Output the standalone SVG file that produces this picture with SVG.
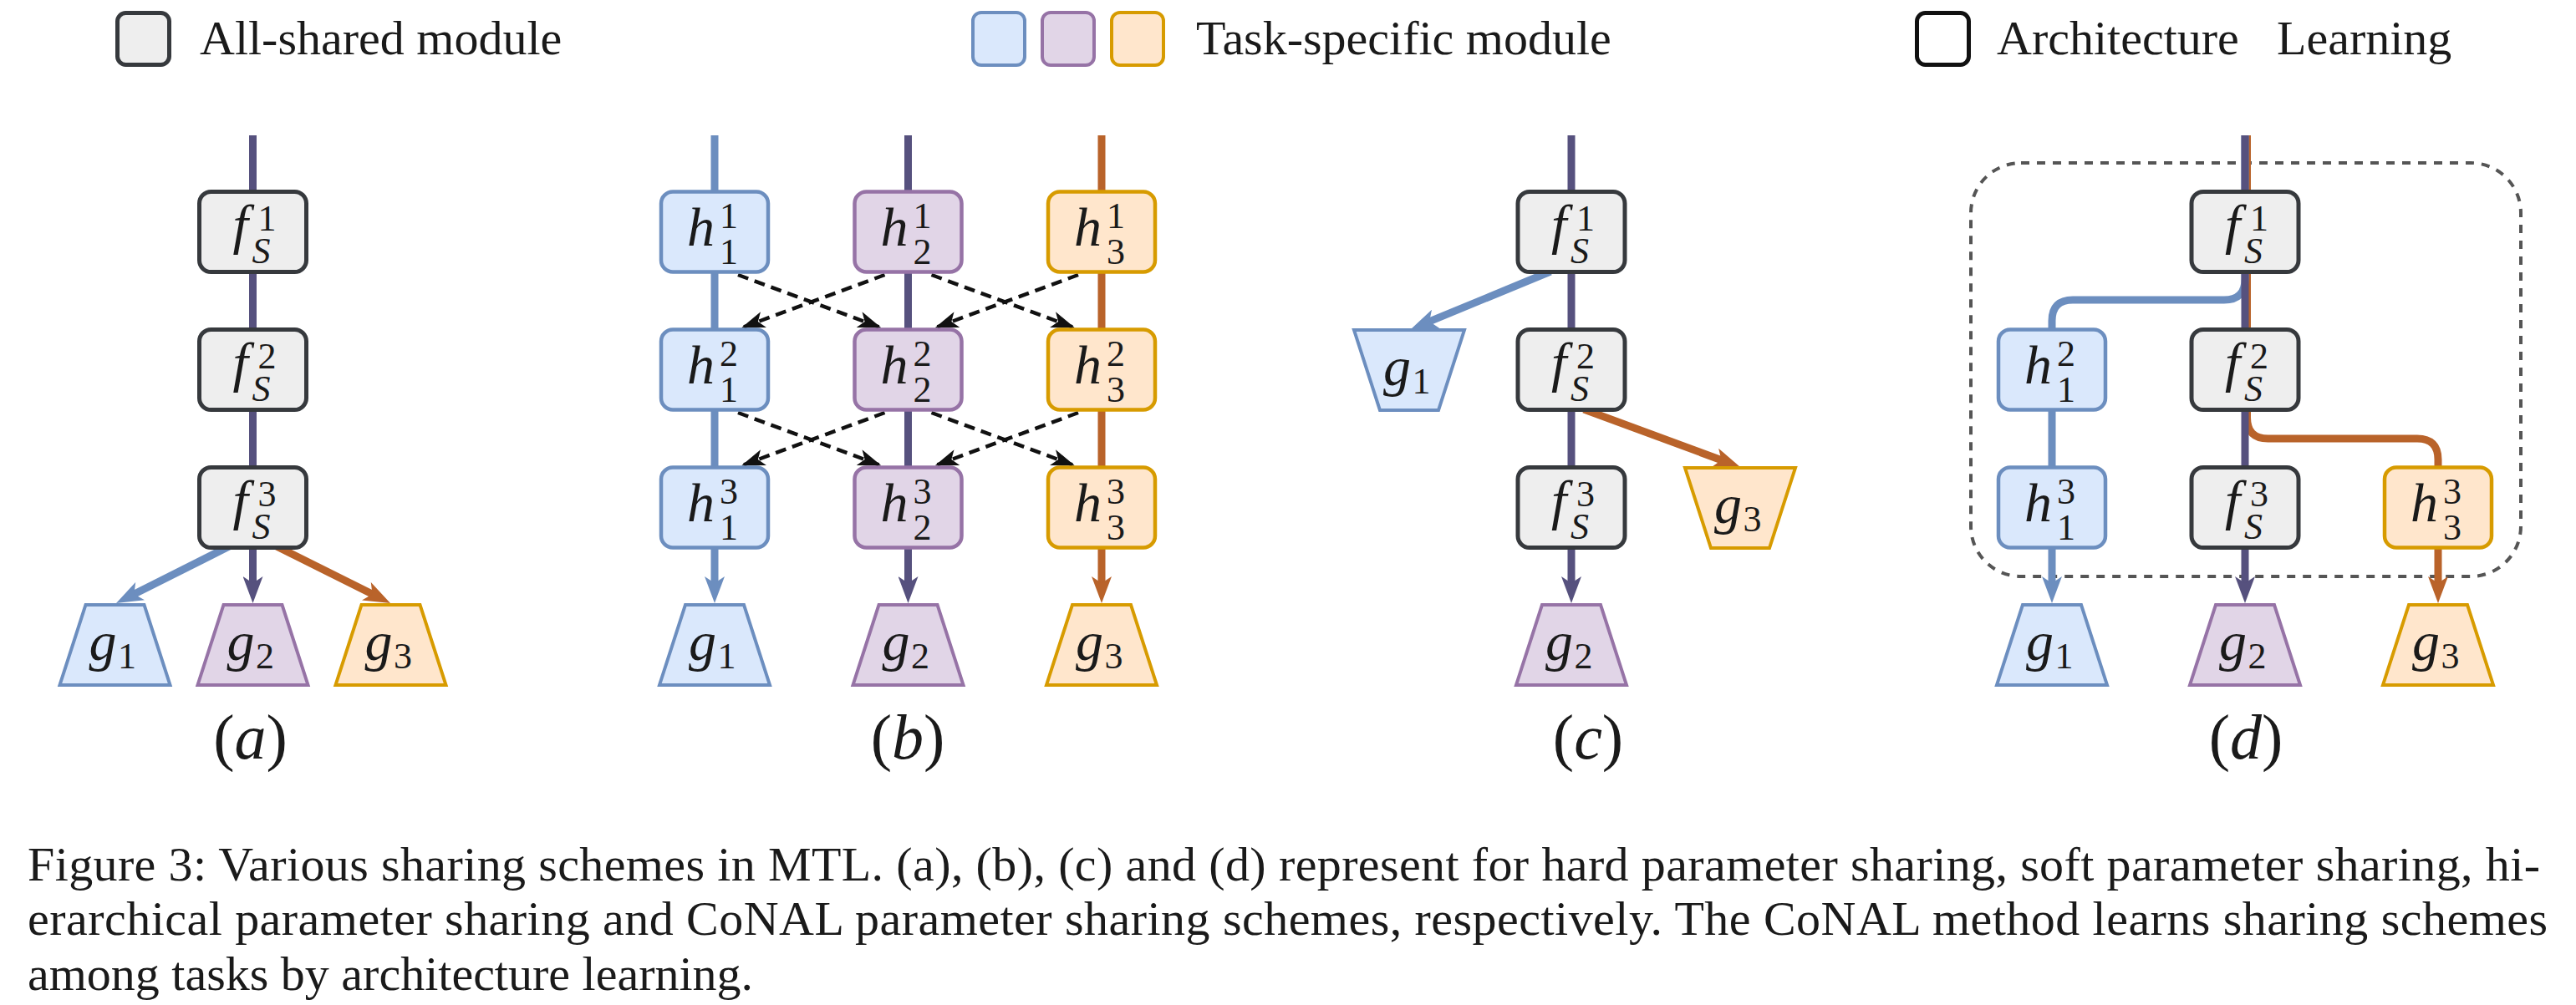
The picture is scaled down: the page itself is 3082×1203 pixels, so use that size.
<svg xmlns="http://www.w3.org/2000/svg" width="3082" height="1203" viewBox="0 0 3082 1203">
<style>
.gray{fill:#eeeeee;stroke:#36393d;stroke-width:5}
.blu{fill:#dae8fc;stroke:#6c8ebf;stroke-width:4.5}
.pur{fill:#e1d5e7;stroke:#9673a6;stroke-width:4.5}
.org{fill:#ffe6cc;stroke:#d79b00;stroke-width:4.5}
.tb{fill:#dae8fc;stroke:#6c8ebf;stroke-width:4}
.tp{fill:#e1d5e7;stroke:#9673a6;stroke-width:4}
.to{fill:#ffe6cc;stroke:#d79b00;stroke-width:4}
.arch{fill:#ffffff;stroke:#111111;stroke-width:5}
.t{font-family:"Liberation Serif","Times New Roman",serif;fill:#1a1a1a}
.leg{font-size:58px}
.cap{font-size:58px}
.mi{font-style:italic;font-size:66px}
.sm{font-style:normal;font-size:44px}
.smi{font-style:italic;font-size:44px}
.lbl{font-size:76px}
.ln{fill:none;stroke-width:9}
.lb{stroke:#6c8ebf}
.lp{stroke:#56517e}
.lo{stroke:#b9632a}
.dash{fill:none;stroke:#111111;stroke-width:4.5;stroke-dasharray:13 8}
.frame{fill:none;stroke:#555555;stroke-width:4;stroke-dasharray:10 9}
</style>
<defs>
<marker id="ab" markerUnits="userSpaceOnUse" viewBox="0 0 32 24" markerWidth="32" markerHeight="24" refX="16" refY="12" orient="auto"><path d="M0,0 L32,12 L0,24 L8,12 Z" fill="#6c8ebf"/></marker>
<marker id="ap" markerUnits="userSpaceOnUse" viewBox="0 0 32 24" markerWidth="32" markerHeight="24" refX="16" refY="12" orient="auto"><path d="M0,0 L32,12 L0,24 L8,12 Z" fill="#56517e"/></marker>
<marker id="ao" markerUnits="userSpaceOnUse" viewBox="0 0 32 24" markerWidth="32" markerHeight="24" refX="16" refY="12" orient="auto"><path d="M0,0 L32,12 L0,24 L8,12 Z" fill="#b9632a"/></marker>
<marker id="ak" markerUnits="userSpaceOnUse" viewBox="0 0 28 20" markerWidth="28" markerHeight="20" refX="25" refY="10" orient="auto"><path d="M0,0 L28,10 L0,20 L7,10 Z" fill="#111111"/></marker>
</defs>
<rect width="3082" height="1203" fill="#ffffff"/>

<g id="legend">
<g id="legend-shared"><rect x="140.5" y="15.5" width="62" height="62" rx="10" class="gray"/><text class="t leg" x="239" y="65">All-shared module</text></g>
<g id="legend-task"><rect x="1164" y="15" width="62" height="63" rx="10" class="tb"/><rect x="1247" y="15" width="62" height="63" rx="10" class="tp"/><rect x="1330" y="15" width="62" height="63" rx="10" class="to"/><text class="t leg" x="1431" y="65">Task-specific module</text></g>
<g id="legend-arch"><rect x="2293.5" y="15.5" width="62" height="62" rx="10" class="arch"/><text class="t leg" x="2389" y="65">Architecture <tspan x="2724">Learning</tspan></text></g>
</g>

<g id="frame-d"><rect x="2358" y="195" width="658" height="495" rx="60" class="frame"/></g>

<g id="connectors">
<path class="ln lp" d="M302.5,162 V706" marker-end="url(#ap)"/>
<path class="ln lb" d="M282,650 L153.3,714.8" marker-end="url(#ab)"/>
<path class="ln lo" d="M323,650 L452.7,714.8" marker-end="url(#ao)"/>
<path class="ln lb" d="M855,162 V706" marker-end="url(#ab)"/>
<path class="ln lp" d="M1086.5,162 V706" marker-end="url(#ap)"/>
<path class="ln lo" d="M1318,162 V706" marker-end="url(#ao)"/>
<path class="dash" d="M883,329 L1051.5,391.3" marker-end="url(#ak)"/>
<path class="dash" d="M1058.5,329 L890,391.3" marker-end="url(#ak)"/>
<path class="dash" d="M1114.5,329 L1283,391.3" marker-end="url(#ak)"/>
<path class="dash" d="M1290,329 L1121.5,391.3" marker-end="url(#ak)"/>
<path class="dash" d="M883,494 L1051.5,556.3" marker-end="url(#ak)"/>
<path class="dash" d="M1058.5,494 L890,556.3" marker-end="url(#ak)"/>
<path class="dash" d="M1114.5,494 L1283,556.3" marker-end="url(#ak)"/>
<path class="dash" d="M1290,494 L1121.5,556.3" marker-end="url(#ak)"/>
<path class="ln lp" d="M1880,162 V706" marker-end="url(#ap)"/>
<path class="ln lb" d="M1855,325 L1702.8,387.9" marker-end="url(#ab)"/>
<path class="ln lo" d="M1895,490 L2067,553.5" marker-end="url(#ao)"/>
<path class="ln lo" d="M2688.5,162 V500 Q2688.5,525 2713.5,525 H2892 Q2917,525 2917,550 V706" marker-end="url(#ao)"/>
<path class="ln lb" d="M2686,162 V334 Q2686,359 2661,359 H2480 Q2455,359 2455,384 V706" marker-end="url(#ab)"/>
<path class="ln lp" d="M2686,162 V706" marker-end="url(#ap)"/>
</g>

<g id="a-f1"><rect x="238.5" y="229.5" width="128" height="96" rx="14" class="gray"/><text class="t" x="278.5" y="290.5"><tspan class="mi">f</tspan><tspan class="sm" x="308.5" y="275.5">1</tspan><tspan class="smi" x="301.5" y="314.5">S</tspan></text></g>
<g id="a-f2"><rect x="238.5" y="394.5" width="128" height="96" rx="14" class="gray"/><text class="t" x="278.5" y="455.5"><tspan class="mi">f</tspan><tspan class="sm" x="308.5" y="440.5">2</tspan><tspan class="smi" x="301.5" y="479.5">S</tspan></text></g>
<g id="a-f3"><rect x="238.5" y="559.5" width="128" height="96" rx="14" class="gray"/><text class="t" x="278.5" y="620.5"><tspan class="mi">f</tspan><tspan class="sm" x="308.5" y="605.5">3</tspan><tspan class="smi" x="301.5" y="644.5">S</tspan></text></g>
<g id="a-g1"><polygon points="102.5,724 172.5,724 203.5,820 71.5,820" class="tb"/><text class="t" x="106.5" y="790"><tspan class="mi">g</tspan><tspan class="sm" x="141" y="800">1</tspan></text></g>
<g id="a-g2"><polygon points="267.5,724 337.5,724 368.5,820 236.5,820" class="tp"/><text class="t" x="271.5" y="790"><tspan class="mi">g</tspan><tspan class="sm" x="306" y="800">2</tspan></text></g>
<g id="a-g3"><polygon points="432.5,724 502.5,724 533.5,820 401.5,820" class="to"/><text class="t" x="436.5" y="790"><tspan class="mi">g</tspan><tspan class="sm" x="471" y="800">3</tspan></text></g>
<text id="label-a" class="t lbl" x="299.5" y="908" text-anchor="middle">(<tspan font-style="italic">a</tspan>)</text>

<g id="b-h11"><rect x="791" y="229.5" width="128" height="96" rx="14" class="blu"/><text class="t" x="822" y="294"><tspan class="mi">h</tspan><tspan class="sm" x="861" y="272.5">1</tspan><tspan class="sm" x="861" y="315.5">1</tspan></text></g>
<g id="b-h12"><rect x="791" y="394.5" width="128" height="96" rx="14" class="blu"/><text class="t" x="822" y="459"><tspan class="mi">h</tspan><tspan class="sm" x="861" y="437.5">2</tspan><tspan class="sm" x="861" y="480.5">1</tspan></text></g>
<g id="b-h13"><rect x="791" y="559.5" width="128" height="96" rx="14" class="blu"/><text class="t" x="822" y="624"><tspan class="mi">h</tspan><tspan class="sm" x="861" y="602.5">3</tspan><tspan class="sm" x="861" y="645.5">1</tspan></text></g>
<g id="b-h21"><rect x="1022.5" y="229.5" width="128" height="96" rx="14" class="pur"/><text class="t" x="1053.5" y="294"><tspan class="mi">h</tspan><tspan class="sm" x="1092.5" y="272.5">1</tspan><tspan class="sm" x="1092.5" y="315.5">2</tspan></text></g>
<g id="b-h22"><rect x="1022.5" y="394.5" width="128" height="96" rx="14" class="pur"/><text class="t" x="1053.5" y="459"><tspan class="mi">h</tspan><tspan class="sm" x="1092.5" y="437.5">2</tspan><tspan class="sm" x="1092.5" y="480.5">2</tspan></text></g>
<g id="b-h23"><rect x="1022.5" y="559.5" width="128" height="96" rx="14" class="pur"/><text class="t" x="1053.5" y="624"><tspan class="mi">h</tspan><tspan class="sm" x="1092.5" y="602.5">3</tspan><tspan class="sm" x="1092.5" y="645.5">2</tspan></text></g>
<g id="b-h31"><rect x="1254" y="229.5" width="128" height="96" rx="14" class="org"/><text class="t" x="1285" y="294"><tspan class="mi">h</tspan><tspan class="sm" x="1324" y="272.5">1</tspan><tspan class="sm" x="1324" y="315.5">3</tspan></text></g>
<g id="b-h32"><rect x="1254" y="394.5" width="128" height="96" rx="14" class="org"/><text class="t" x="1285" y="459"><tspan class="mi">h</tspan><tspan class="sm" x="1324" y="437.5">2</tspan><tspan class="sm" x="1324" y="480.5">3</tspan></text></g>
<g id="b-h33"><rect x="1254" y="559.5" width="128" height="96" rx="14" class="org"/><text class="t" x="1285" y="624"><tspan class="mi">h</tspan><tspan class="sm" x="1324" y="602.5">3</tspan><tspan class="sm" x="1324" y="645.5">3</tspan></text></g>
<g id="b-g1"><polygon points="820,724 890,724 921,820 789,820" class="tb"/><text class="t" x="824" y="790"><tspan class="mi">g</tspan><tspan class="sm" x="858.5" y="800">1</tspan></text></g>
<g id="b-g2"><polygon points="1051.5,724 1121.5,724 1152.5,820 1020.5,820" class="tp"/><text class="t" x="1055.5" y="790"><tspan class="mi">g</tspan><tspan class="sm" x="1090" y="800">2</tspan></text></g>
<g id="b-g3"><polygon points="1283,724 1353,724 1384,820 1252,820" class="to"/><text class="t" x="1287" y="790"><tspan class="mi">g</tspan><tspan class="sm" x="1321.5" y="800">3</tspan></text></g>
<text id="label-b" class="t lbl" x="1086" y="908" text-anchor="middle">(<tspan font-style="italic">b</tspan>)</text>

<g id="c-f1"><rect x="1816" y="229.5" width="128" height="96" rx="14" class="gray"/><text class="t" x="1856" y="290.5"><tspan class="mi">f</tspan><tspan class="sm" x="1886" y="275.5">1</tspan><tspan class="smi" x="1879" y="314.5">S</tspan></text></g>
<g id="c-f2"><rect x="1816" y="394.5" width="128" height="96" rx="14" class="gray"/><text class="t" x="1856" y="455.5"><tspan class="mi">f</tspan><tspan class="sm" x="1886" y="440.5">2</tspan><tspan class="smi" x="1879" y="479.5">S</tspan></text></g>
<g id="c-f3"><rect x="1816" y="559.5" width="128" height="96" rx="14" class="gray"/><text class="t" x="1856" y="620.5"><tspan class="mi">f</tspan><tspan class="sm" x="1886" y="605.5">3</tspan><tspan class="smi" x="1879" y="644.5">S</tspan></text></g>
<g id="c-g1"><polygon points="1620,395 1752,395 1721,491 1651,491" class="tb"/><text class="t" x="1655" y="461"><tspan class="mi">g</tspan><tspan class="sm" x="1689.5" y="471">1</tspan></text></g>
<g id="c-g3"><polygon points="2016,560 2148,560 2117,656 2047,656" class="to"/><text class="t" x="2051" y="626"><tspan class="mi">g</tspan><tspan class="sm" x="2085.5" y="636">3</tspan></text></g>
<g id="c-g2"><polygon points="1845,724 1915,724 1946,820 1814,820" class="tp"/><text class="t" x="1849" y="790"><tspan class="mi">g</tspan><tspan class="sm" x="1883.5" y="800">2</tspan></text></g>
<text id="label-c" class="t lbl" x="1900" y="908" text-anchor="middle">(<tspan font-style="italic">c</tspan>)</text>

<g id="d-f1"><rect x="2622" y="229.5" width="128" height="96" rx="14" class="gray"/><text class="t" x="2662" y="290.5"><tspan class="mi">f</tspan><tspan class="sm" x="2692" y="275.5">1</tspan><tspan class="smi" x="2685" y="314.5">S</tspan></text></g>
<g id="d-f2"><rect x="2622" y="394.5" width="128" height="96" rx="14" class="gray"/><text class="t" x="2662" y="455.5"><tspan class="mi">f</tspan><tspan class="sm" x="2692" y="440.5">2</tspan><tspan class="smi" x="2685" y="479.5">S</tspan></text></g>
<g id="d-f3"><rect x="2622" y="559.5" width="128" height="96" rx="14" class="gray"/><text class="t" x="2662" y="620.5"><tspan class="mi">f</tspan><tspan class="sm" x="2692" y="605.5">3</tspan><tspan class="smi" x="2685" y="644.5">S</tspan></text></g>
<g id="d-h12"><rect x="2391" y="394.5" width="128" height="96" rx="14" class="blu"/><text class="t" x="2422" y="459"><tspan class="mi">h</tspan><tspan class="sm" x="2461" y="437.5">2</tspan><tspan class="sm" x="2461" y="480.5">1</tspan></text></g>
<g id="d-h13"><rect x="2391" y="559.5" width="128" height="96" rx="14" class="blu"/><text class="t" x="2422" y="624"><tspan class="mi">h</tspan><tspan class="sm" x="2461" y="602.5">3</tspan><tspan class="sm" x="2461" y="645.5">1</tspan></text></g>
<g id="d-h33"><rect x="2853" y="559.5" width="128" height="96" rx="14" class="org"/><text class="t" x="2884" y="624"><tspan class="mi">h</tspan><tspan class="sm" x="2923" y="602.5">3</tspan><tspan class="sm" x="2923" y="645.5">3</tspan></text></g>
<g id="d-g1"><polygon points="2420,724 2490,724 2521,820 2389,820" class="tb"/><text class="t" x="2424" y="790"><tspan class="mi">g</tspan><tspan class="sm" x="2458.5" y="800">1</tspan></text></g>
<g id="d-g2"><polygon points="2651,724 2721,724 2752,820 2620,820" class="tp"/><text class="t" x="2655" y="790"><tspan class="mi">g</tspan><tspan class="sm" x="2689.5" y="800">2</tspan></text></g>
<g id="d-g3"><polygon points="2882,724 2952,724 2983,820 2851,820" class="to"/><text class="t" x="2886" y="790"><tspan class="mi">g</tspan><tspan class="sm" x="2920.5" y="800">3</tspan></text></g>
<text id="label-d" class="t lbl" x="2687" y="908" text-anchor="middle">(<tspan font-style="italic">d</tspan>)</text>

<g id="caption">
<text class="t cap" x="33" y="1054" textLength="3006" lengthAdjust="spacing">Figure 3: Various sharing schemes in MTL. (a), (b), (c) and (d) represent for hard parameter sharing, soft parameter sharing, hi-</text>
<text class="t cap" x="33" y="1119" textLength="3015" lengthAdjust="spacing">erarchical parameter sharing and CoNAL parameter sharing schemes, respectively. The CoNAL method learns sharing schemes</text>
<text class="t cap" x="33" y="1185">among tasks by architecture learning.</text>
</g>
</svg>
